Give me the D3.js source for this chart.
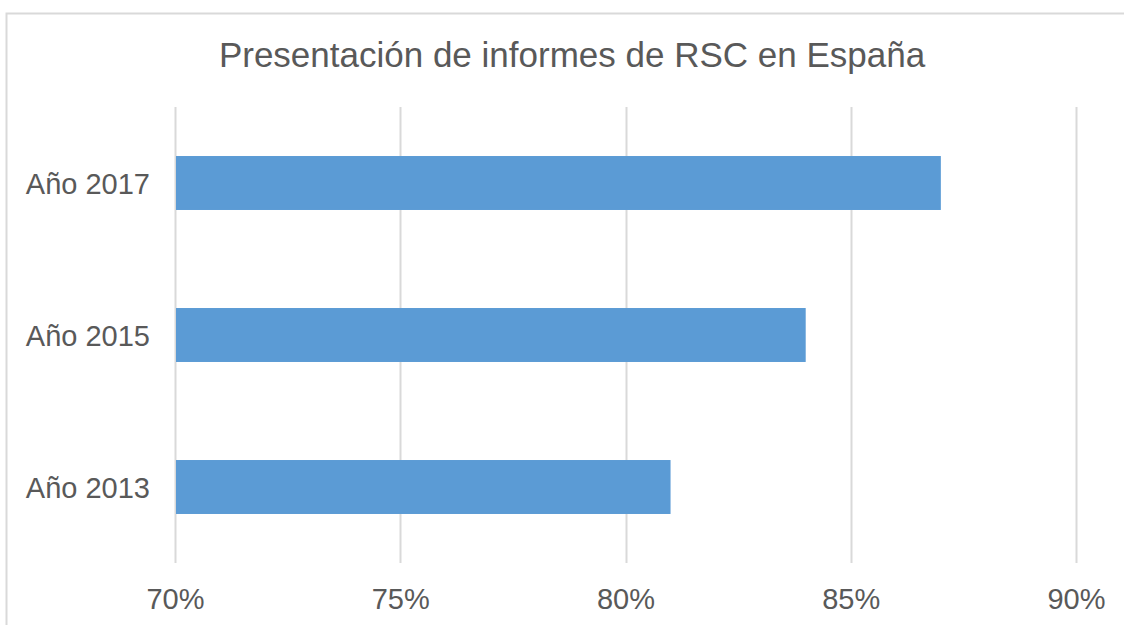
<!DOCTYPE html>
<html lang="es">
<head>
<meta charset="UTF-8">
<title>Presentación de informes de RSC en España</title>
<script src="https://d3js.org/d3.v7.min.js"></script>
<style>
  body { margin: 0; background: #fff; }
  text { font-family: "Liberation Sans", Arial, sans-serif; fill: #595959; }
</style>
</head>
<body>
<svg width="1124" height="625"></svg>
<script>
const years = ["Año 2017", "Año 2015", "Año 2013"];
const values = [0.87, 0.84, 0.81];
const xTicks = [0.70, 0.75, 0.80, 0.85, 0.90];

const svg = d3.select("svg");
const margin = {top: 107, right: 48, bottom: 62, left: 175};
const width = 1076 - margin.left,
      height = 563 - margin.top;

// chart border
svg.append("rect")
    .attr("x", 6.5).attr("y", 13.5)
    .attr("width", 1130).attr("height", 700)
    .attr("fill", "none")
    .attr("stroke", "#d9d9d9")
    .attr("stroke-width", 2);

svg.append("text")
    .attr("x", 572).attr("y", 67)
    .attr("text-anchor", "middle")
    .style("font-size", "35px")
    .text("Presentación de informes de RSC en España");

const g = svg.append("g").attr("transform", `translate(${margin.left},${margin.top})`);

const x = d3.scaleLinear().domain([0.70, 0.90]).range([0, width]);
const y = d3.scaleBand().domain(years).range([0, height])
    .paddingInner(0.645).paddingOuter(0.3225);

// gridlines
g.append("g")
  .selectAll("line")
  .data(xTicks)
  .join("line")
    .attr("x1", d => Math.round(x(d)) + 0.5)
    .attr("x2", d => Math.round(x(d)) + 0.5)
    .attr("y1", 0).attr("y2", height)
    .attr("stroke", "#d9d9d9")
    .attr("stroke-width", 2);

g.append("g")
  .selectAll("rect")
  .data(years)
  .join("rect")
    .attr("x", x(0.70) + 1)
    .attr("y", d => y(d))
    .attr("width", (d, i) => x(values[i]) - x(0.70) - 1)
    .attr("height", y.bandwidth())
    .attr("fill", "#5b9bd5");

// x axis labels
const xAxis = g.append("g")
    .attr("transform", `translate(0,${height})`)
    .call(d3.axisBottom(x).tickValues(xTicks).tickFormat(d3.format(".0%")).tickSize(0).tickPadding(25));
xAxis.select(".domain").remove();
xAxis.selectAll("text").style("font-size", "29px").attr("fill", "#595959");

// y axis labels
const yAxis = g.append("g")
    .call(d3.axisLeft(y).tickSize(0).tickPadding(25));
yAxis.select(".domain").remove();
yAxis.selectAll("text").style("font-size", "29px").attr("fill", "#595959").attr("dy", "0.39em");
</script>
</body>
</html>
